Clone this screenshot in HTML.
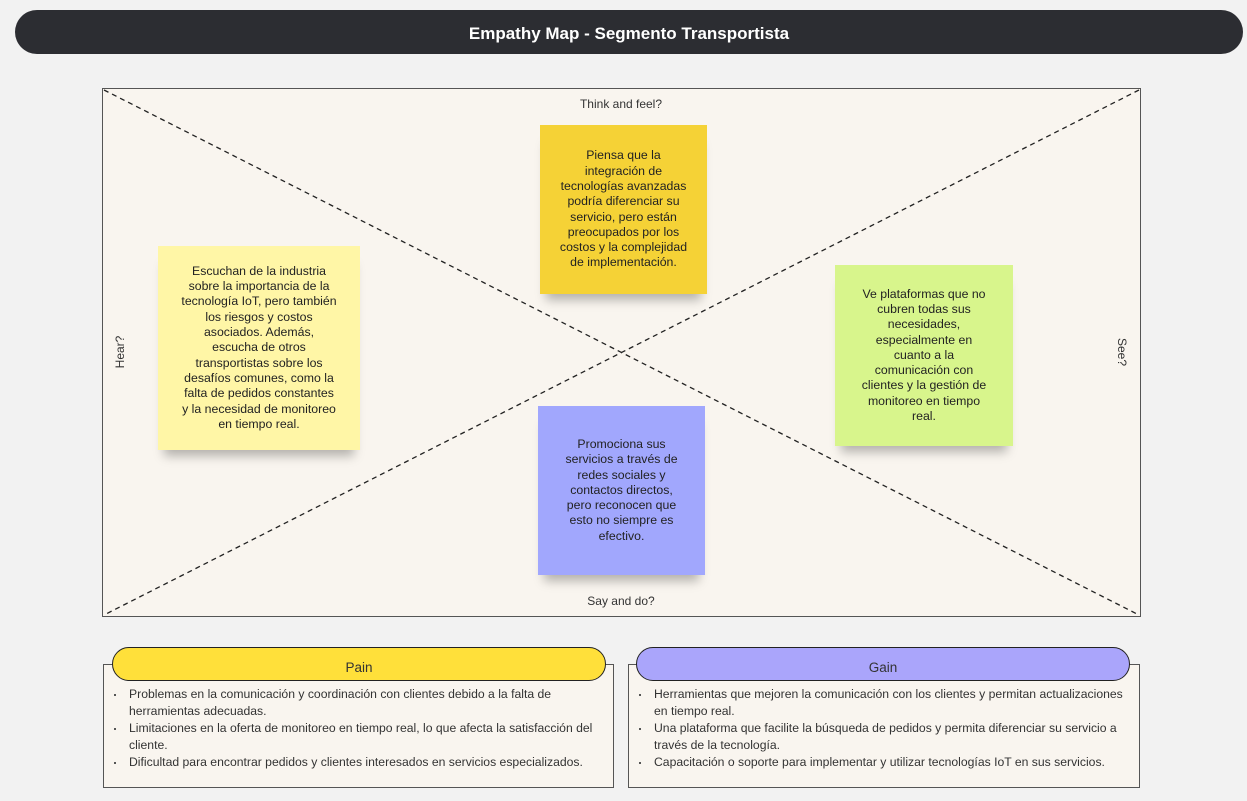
<!DOCTYPE html>
<html><head><meta charset="utf-8"><style>
body{margin:0;width:1247px;height:801px;background:#f2f2f2;position:relative;overflow:hidden;font-family:"Liberation Sans",sans-serif;}
.abs{position:absolute;}
.title{left:15px;top:10px;width:1228px;height:44px;background:#2c2d32;border-radius:22px;color:#fff;font-weight:bold;font-size:17px;text-align:center;line-height:47px;}
.frame{left:102px;top:88px;width:1037px;height:527px;background:#f9f5ef;border:1.5px solid #555;}
.lbl{font-size:12px;color:#333;}
.st{display:flex;align-items:center;justify-content:center;text-align:center;font-size:12.3px;line-height:15.3px;color:#222;box-shadow:0 12px 10px -6px rgba(0,0,0,0.28);}
.box{background:#f9f5ef;border:1.5px solid #555;box-sizing:border-box;}
.pill{border:1.5px solid #222;border-radius:17px;box-sizing:border-box;text-align:center;font-size:13.5px;color:#333;line-height:40px;}
ul{margin:0;padding:0 0 0 26px;font-size:12.2px;line-height:17px;color:#333;}
li{list-style:none;position:relative;}
li:before{content:"";position:absolute;left:-15px;top:8px;width:2px;height:2px;background:#555;}
</style></head><body>
<div class="abs title">Empathy Map - Segmento Transportista</div>
<div class="abs frame"></div>
<svg class="abs" style="left:0;top:0" width="1247" height="801">
<line x1="104" y1="90" x2="1139" y2="615" stroke="#222" stroke-width="1.3" stroke-dasharray="5,4"/>
<line x1="1139" y1="90" x2="104" y2="615" stroke="#222" stroke-width="1.3" stroke-dasharray="5,4"/>
</svg>
<div class="abs lbl" style="left:521px;top:97px;width:200px;text-align:center">Think and feel?</div>
<div class="abs lbl" style="left:521px;top:594px;width:200px;text-align:center">Say and do?</div>
<div class="abs lbl" style="left:100px;top:345px;width:40px;text-align:center;transform:rotate(-90deg)">Hear?</div>
<div class="abs lbl" style="left:1102px;top:345px;width:40px;text-align:center;transform:rotate(90deg)">See?</div>
<div class="abs st" style="left:158px;top:246px;width:202px;height:204px;background:#fff6a6">Escuchan de la industria<br>sobre la importancia de la<br>tecnología IoT, pero también<br>los riesgos y costos<br>asociados. Además,<br>escucha de otros<br>transportistas sobre los<br>desafíos comunes, como la<br>falta de pedidos constantes<br>y la necesidad de monitoreo<br>en tiempo real.</div>
<div class="abs st" style="left:540px;top:125px;width:167px;height:169px;background:#f5d236">Piensa que la<br>integración de<br>tecnologías avanzadas<br>podría diferenciar su<br>servicio, pero están<br>preocupados por los<br>costos y la complejidad<br>de implementación.</div>
<div class="abs st" style="left:835px;top:265px;width:178px;height:181px;background:#d8f58c">Ve plataformas que no<br>cubren todas sus<br>necesidades,<br>especialmente en<br>cuanto a la<br>comunicación con<br>clientes y la gestión de<br>monitoreo en tiempo<br>real.</div>
<div class="abs st" style="left:538px;top:406px;width:167px;height:169px;background:#a1a7fd">Promociona sus<br>servicios a través de<br>redes sociales y<br>contactos directos,<br>pero reconocen que<br>esto no siempre es<br>efectivo.</div>
<div class="abs box" style="left:103px;top:664px;width:511px;height:124px"></div>
<div class="abs pill" style="left:112px;top:647px;width:494px;height:34px;background:#ffe03a">Pain</div>
<div class="abs" style="left:103px;top:686px;width:511px"><ul>
<li>Problemas en la comunicación y coordinación con clientes debido a la falta de<br>herramientas adecuadas.</li>
<li>Limitaciones en la oferta de monitoreo en tiempo real, lo que afecta la satisfacción del<br>cliente.</li>
<li>Dificultad para encontrar pedidos y clientes interesados en servicios especializados.</li></ul></div>
<div class="abs box" style="left:628px;top:664px;width:512px;height:124px"></div>
<div class="abs pill" style="left:636px;top:647px;width:494px;height:34px;background:#aaa5fb">Gain</div>
<div class="abs" style="left:628px;top:686px;width:520px"><ul>
<li>Herramientas que mejoren la comunicación con los clientes y permitan actualizaciones<br>en tiempo real.</li>
<li>Una plataforma que facilite la búsqueda de pedidos y permita diferenciar su servicio a<br>través de la tecnología.</li>
<li>Capacitación o soporte para implementar y utilizar tecnologías IoT en sus servicios.</li></ul></div>
</body></html>
